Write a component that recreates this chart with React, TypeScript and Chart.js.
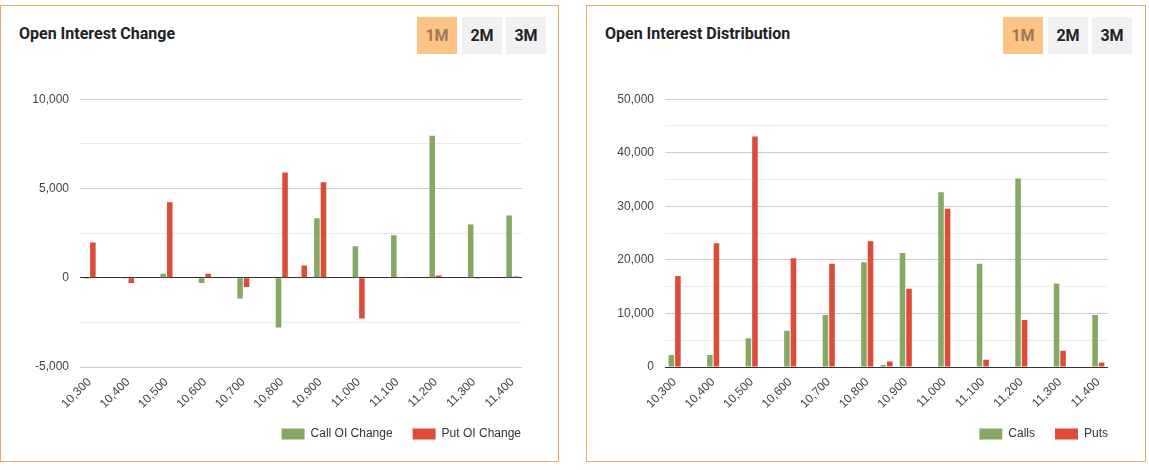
import React, { useEffect, useRef } from 'react';
import { Chart, registerables } from 'chart.js';

Chart.register(...registerables);

// ---------- data ----------
const strikes = [
  '10,300', '10,350', '10,400', '10,450', '10,500', '10,550', '10,600', '10,650',
  '10,700', '10,750', '10,800', '10,850', '10,900', '10,950', '11,000', '11,050',
  '11,100', '11,150', '11,200', '11,250', '11,300', '11,350', '11,400',
];

const callOiChange = [
  -50, null, -20, null, 220, null, -300, null,
  -1170, null, -2790, -30, 3330, null, 1770, null,
  2380, null, 7950, null, 2980, null, 3480,
];
const putOiChange = [
  1980, null, -300, null, 4230, null, 220, null,
  -520, null, 5900, 680, 5350, null, -2290, null,
  10, null, 130, null, -20, null, 70,
];

const calls = [
  2230, null, 2220, null, 5390, null, 6750, null,
  9720, null, 19570, 370, 21300, null, 32640, null,
  19260, null, 35190, null, 15610, null, 9720,
];
const puts = [
  16970, null, 23100, null, 43050, null, 20300, null,
  19260, null, 23480, 1040, 14610, null, 29550, null,
  1360, null, 8790, null, 3030, null, 860,
];

const changeLabelledTicks = [-5000, 0, 5000, 10000];
const distLabelledTicks = [0, 10000, 20000, 30000, 40000, 50000];

const GREEN = '#87a863';
const RED = '#dd4b39';
const BORDER = '#e9aa6c';

type Series = { label: string; data: (number | null)[]; color: string };

function BarChart(props: {
  series: Series[];
  min: number;
  max: number;
  step: number;
  labelled: number[];
  yWidth: number;
  rightGap: number;
  width: number;
}) {
  const ref = useRef<HTMLCanvasElement | null>(null);
  useEffect(() => {
    if (!ref.current) return;
    const font = { family: '"Liberation Sans", Arial, sans-serif', size: 12 };
    const chart = new Chart(ref.current, {
      type: 'bar',
      data: {
        labels: strikes,
        datasets: props.series.map((s) => ({
          label: s.label,
          data: s.data,
          backgroundColor: s.color,
          borderWidth: 0,
          categoryPercentage: 0.68,
          barPercentage: 0.85,
        })),
      },
      options: {
        responsive: false,
        animation: false,
        layout: { padding: { top: 17, right: 17, bottom: 6, left: 0 } },
        plugins: {
          tooltip: { enabled: false },
          legend: {
            position: 'bottom',
            align: 'end',
            labels: {
              boxWidth: 23,
              boxHeight: 11,
              padding: 20,
              color: '#333',
              font,
            },
          },
        },
        scales: {
          x: {
            grid: { display: false },
            border: { display: false },
            ticks: {
              autoSkip: false,
              minRotation: 45,
              maxRotation: 45,
              padding: 0,
              color: '#444',
              font,
              callback: (_v: any, i: number) => (strikes[i].endsWith('00') ? strikes[i] : ''),
            },
            afterFit: (s: any) => {
              s.height = 41;
            },
          },
          y: {
            min: props.min,
            max: props.max,
            border: { display: false },
            grid: {
              drawTicks: false,
              color: (ctx: any) =>
                ctx.tick.value === 0
                  ? '#333333'
                  : props.labelled.includes(ctx.tick.value)
                  ? '#cccccc'
                  : '#ebebeb',
            },
            ticks: {
              stepSize: props.step,
              padding: 11,
              color: '#444',
              font,
              callback: (v: any) =>
                props.labelled.includes(Number(v)) ? Number(v).toLocaleString('en-US') : '',
            },
            afterFit: (s: any) => {
              s.width = props.yWidth;
            },
          },
          y2: {
            position: 'right',
            display: true,
            grid: { display: false },
            border: { display: false },
            ticks: { display: false },
            afterFit: (s: any) => {
              s.width = props.rightGap;
            },
          },
        },
      } as any,
    });
    return () => chart.destroy();
  }, []);
  return (
    <canvas
      ref={ref}
      width={props.width}
      height={375}
      style={{ position: 'absolute', left: 0, top: 75, width: props.width, height: 375 }}
    />
  );
}

function Button(props: { text: string; active?: boolean; left: number }) {
  return (
    <div
      style={{
        position: 'absolute',
        left: props.left,
        top: 11,
        width: 40,
        height: 37,
        background: props.active ? '#fdc384' : '#f1f1f3',
        color: props.active ? '#9c7a58' : '#222',
        font: 'bold 16px Roboto, "Noto Sans", sans-serif',
        lineHeight: '37px',
        textAlign: 'center',
      }}
    >
      {props.text}
    </div>
  );
}

function Panel(props: { left: number; width: number; title: string; children: React.ReactNode }) {
  return (
    <div
      style={{
        position: 'absolute',
        left: props.left,
        top: 5,
        width: props.width,
        height: 457,
        border: `1px solid ${BORDER}`,
        boxSizing: 'border-box',
        background: '#fff',
      }}
    >
      <div
        style={{
          position: 'absolute',
          left: 18,
          top: 17,
          font: 'bold 16px Roboto, "Noto Sans", sans-serif',
          color: '#222',
          lineHeight: '22px',
          whiteSpace: 'nowrap',
        }}
      >
        {props.title}
      </div>
      <Button text="1M" active left={416} />
      <Button text="2M" left={461} />
      <Button text="3M" left={505} />
      {props.children}
    </div>
  );
}

export default function App() {
  return (
    <div style={{ position: 'absolute', left: 0, top: 0, width: 1149, height: 470, background: '#fff' }}>
      <Panel left={0} width={559} title="Open Interest Change">
        <BarChart
          series={[
            { label: 'Call OI Change', data: callOiChange, color: GREEN },
            { label: 'Put OI Change', data: putOiChange, color: RED },
          ]}
          min={-5000}
          max={10000}
          step={2500}
          labelled={changeLabelledTicks}
          yWidth={79}
          rightGap={19}
          width={557}
        />
      </Panel>
      <Panel left={586} width={560} title="Open Interest Distribution">
        <BarChart
          series={[
            { label: 'Calls', data: calls, color: GREEN },
            { label: 'Puts', data: puts, color: RED },
          ]}
          min={0}
          max={50000}
          step={5000}
          labelled={distLabelledTicks}
          yWidth={78}
          rightGap={20}
          width={558}
        />
      </Panel>
    </div>
  );
}
